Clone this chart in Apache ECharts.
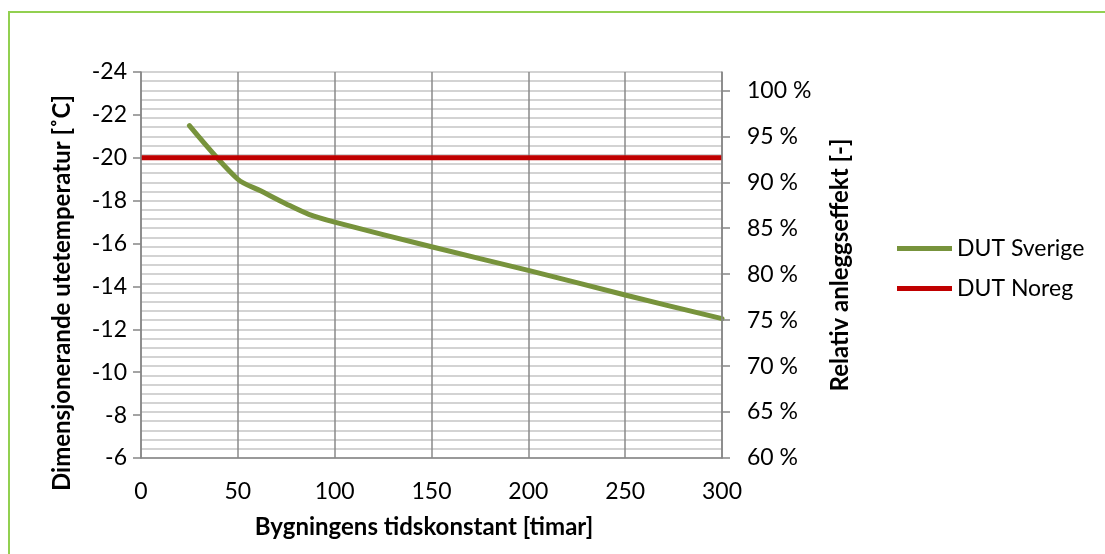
<!DOCTYPE html>
<html>
<head>
<meta charset="utf-8">
<script src="https://cdn.jsdelivr.net/npm/echarts@6/dist/echarts.min.js"></script>
<style>
html,body{margin:0;padding:0;background:#fff;}
#chart{width:1105px;height:554px;}
</style>
</head>
<body>
<div id="chart"></div>
<script>
// ---- data ----
const timeConstants = [25, 50, 62, 75, 87, 100, 150, 200, 250, 300];
const dutSverige = [-21.5, -19.0, -18.45, -17.85, -17.35, -17.0, -15.85, -14.75, -13.6, -12.5];
const norgeX = [0, 300];
const dutNoreg = [-20, -20];
const rightTicks = [60, 65, 70, 75, 80, 85, 90, 95, 100];
const seriesNames = ['DUT Sverige', 'DUT Noreg'];
const xTitle = 'Bygningens tidskonstant [timar]';
const yTitle = 'Dimensjonerande utetemperatur [˚C]';
const y2Title = 'Relativ anleggseffekt [-]';

const FONT = 'Lato';
const FS = 23;
const chart = echarts.init(document.getElementById('chart'));
const option = {
  animation: false,
  backgroundColor: '#fff',
  grid: {left: 141, top: 72, width: 581, height: 386, containLabel: false},
  legend: {
    orient: 'vertical', left: 892, top: 232, itemWidth: 55, itemHeight: 5, itemGap: 17,
    icon: 'rect',
    textStyle: {fontFamily: FONT, fontSize: FS, color: '#000'},
    data: seriesNames
  },
  xAxis: {
    type: 'value', min: 0, max: 300, interval: 50,
    axisLine: {show: true, lineStyle: {color: '#868686', width: 1.5}},
    axisTick: {show: false},
    axisLabel: {fontFamily: FONT, fontSize: FS, color: '#000', margin: 22},
    splitLine: {show: true, lineStyle: {color: '#8a8a8a', width: 1.5}}
  },
  yAxis: [{
    type: 'value', inverse: true, min: -24, max: -6, interval: 2,
    axisLine: {show: true, lineStyle: {color: '#868686', width: 1.5}},
    axisTick: {show: true, length: 8, lineStyle: {color: '#868686', width: 1.5}},
    axisLabel: {fontFamily: FONT, fontSize: FS, color: '#000', margin: 14},
    splitLine: {show: false}, z: 5
  }, {
    type: 'value', position: 'right', min: 60, max: 102, interval: 1,
    axisLine: {show: true, lineStyle: {color: '#868686', width: 1.5}},
    axisTick: {show: true, length: 8, customValues: rightTicks, lineStyle: {color: '#868686', width: 1.5}},
    axisLabel: {fontFamily: FONT, fontSize: FS, color: '#000', margin: 25,
      customValues: rightTicks, formatter: v => v + ' %'},
    splitLine: {show: false}, z: 5
  }, {
    // minor 1 % grid of the secondary axis
    type: 'value', position: 'right', min: 60, max: 102, interval: 1,
    axisLine: {show: false}, axisTick: {show: false}, axisLabel: {show: false},
    splitLine: {show: true, lineStyle: {color: '#c4c4c4', width: 1.5}}
  }],
  series: [{
    name: seriesNames[0], type: 'line', yAxisIndex: 0, smooth: 0.3, symbol: 'none',
    color: '#77933C', lineStyle: {width: 5, color: '#77933C', cap: 'round'},
    data: timeConstants.map((x, i) => [x, dutSverige[i]]), z: 3
  }, {
    name: seriesNames[1], type: 'line', yAxisIndex: 0, symbol: 'none',
    color: '#C00000', lineStyle: {width: 5, color: '#C00000'},
    data: norgeX.map((x, i) => [x, dutNoreg[i]]), z: 4
  }],
  graphic: [
    {type: 'rect', shape: {x: 9, y: 12, width: 2000, height: 2000},
     style: {fill: 'none', stroke: '#92D050', lineWidth: 2}, z: -1},
    {type: 'text', x: 424, y: 527,
     style: {text: xTitle, font: 'bold 24px Lato', fill: '#000', textAlign: 'center', textVerticalAlign: 'middle'}},
    {type: 'text', x: 62, y: 293, rotation: Math.PI / 2,
     style: {text: yTitle, font: 'bold 24px Lato', fill: '#000', textAlign: 'center', textVerticalAlign: 'middle'}},
    {type: 'text', x: 840, y: 265, rotation: Math.PI / 2,
     style: {text: y2Title, font: 'bold 24px Lato', fill: '#000', textAlign: 'center', textVerticalAlign: 'middle'}}
  ]
};
chart.setOption(option);
</script>
</body>
</html>
